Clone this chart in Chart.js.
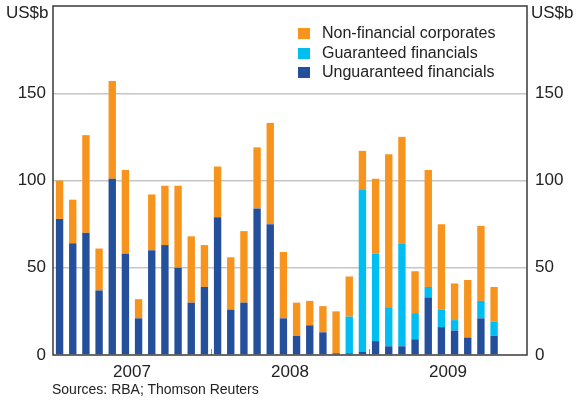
<!DOCTYPE html>
<html>
<head>
<meta charset="utf-8">
<script src="https://cdn.jsdelivr.net/npm/chart.js@4/dist/chart.umd.min.js"></script>
<style>
  body { margin: 0; background: #fff; font-family: "Liberation Sans", Arial, sans-serif; color: #222; }
  .wrap { position: relative; width: 577px; height: 400px; }
  .unit { position: absolute; top: 3px; font-size: 17px; }
  .legend { position: absolute; left: 298px; top: 23px; font-size: 16px; }
  .legend div { height: 19.5px; line-height: 19.5px; white-space: nowrap; }
  .legend span { display: inline-block; width: 12px; height: 11px; margin-right: 12px; vertical-align: -1px; }
  .source { position: absolute; left: 52px; top: 381px; font-size: 14px; }
</style>
</head>
<body>
<div class="wrap">
  <canvas id="bondChart" width="577" height="400"></canvas>
  <div class="unit" style="left:6px">US$b</div>
  <div class="unit" style="left:531px">US$b</div>
  <div class="legend">
    <div><span style="background:#f7941d"></span>Non-financial corporates</div>
    <div><span style="background:#00bdf2"></span>Guaranteed financials</div>
    <div><span style="background:#234f9b"></span>Unguaranteed financials</div>
  </div>
  <div class="source">Sources: RBA; Thomson Reuters</div>
</div>
<script>
// Tháng, từ 01/2007 đến 12/2009
var months = ['2007-01','2007-02','2007-03','2007-04','2007-05','2007-06','2007-07','2007-08','2007-09','2007-10','2007-11','2007-12',
              '2008-01','2008-02','2008-03','2008-04','2008-05','2008-06','2008-07','2008-08','2008-09','2008-10','2008-11','2008-12',
              '2009-01','2009-02','2009-03','2009-04','2009-05','2009-06','2009-07','2009-08','2009-09','2009-10','2009-11','2009-12'];
var unguaranteed = [78,64,70,37,101,58,21,60,63,50,30,39, 79,26,30,84,75,21,11,17,13,1,1,2, 8,5,5,9,33,16,14,10,21,11,null,null];
var guaranteed   = [0,0,0,0,0,0,0,0,0,0,0,0, 0,0,0,0,0,0,0,0,0,0,21,93, 50,22,59,15,6,10,6,0,10,8,null,null];
var nonFinancial = [22,25,56,24,56,48,11,32,34,47,38,24, 29,30,41,35,58,38,19,14,15,24,23,22, 43,88,61,24,67,49,21,33,43,20,null,null];
var yearLabels = {'2007-07': '2007', '2008-07': '2008', '2009-07': '2009'};
var yTicks = [0, 50, 100, 150];

document.addEventListener('DOMContentLoaded', function() {
    var ctx = document.getElementById('bondChart').getContext('2d');

    // Khung viền và vạch chia năm
    var framePlugin = {
        id: 'frame',
        afterDraw: function(chart) {
            var a = chart.chartArea;
            var c = chart.ctx;
            var x = chart.scales.x;
            c.save();
            c.strokeStyle = '#8a8a8a';
            c.lineWidth = 1;
            [12, 24].forEach(function(i) {
                var px = Math.round((x.getPixelForValue(i - 1) + x.getPixelForValue(i)) / 2) + 0.5;
                c.beginPath();
                c.moveTo(px, a.bottom);
                c.lineTo(px, a.bottom - 6);
                c.stroke();
            });
            c.strokeStyle = '#3a3a3a';
            c.lineWidth = 1.5;
            c.strokeRect(a.left, a.top, a.right - a.left, a.bottom - a.top);
            c.restore();
        }
    };

    var tickFont = { family: 'Liberation Sans', size: 17 };

    // Bỏ phần đệm tự động ở trên/dưới trục dọc
    function fixY(width) {
        return function(s) {
            s.width = width;
            s.paddingTop = 0;
            s.paddingBottom = 0;
        };
    }

    new Chart(ctx, {
        type: 'bar',
        data: {
            labels: months,
            datasets: [
                { label: 'Unguaranteed financials', data: unguaranteed, backgroundColor: '#234f9b' },
                { label: 'Guaranteed financials', data: guaranteed, backgroundColor: '#00bdf2' },
                { label: 'Non-financial corporates', data: nonFinancial, backgroundColor: '#f7941d' }
            ]
        },
        options: {
            responsive: false,
            animation: false,
            layout: { padding: { top: 6, left: 0, right: 0, bottom: 0 } },
            datasets: { bar: { barPercentage: 0.56, categoryPercentage: 1 } },
            plugins: { legend: { display: false }, tooltip: { enabled: false } },
            scales: {
                x: {
                    stacked: true,
                    grid: { display: false, drawTicks: false },
                    border: { display: false },
                    ticks: {
                        autoSkip: false,
                        maxRotation: 0,
                        padding: 7,
                        labelOffset: -6.6,
                        color: '#222',
                        font: tickFont,
                        callback: function(v, i) { return yearLabels[months[i]] || ''; }
                    },
                    afterFit: function(s) { s.height = 45; s.paddingLeft = 0; s.paddingRight = 0; }
                },
                y: {
                    stacked: true,
                    min: 0, max: 200,
                    position: 'left',
                    border: { display: false },
                    grid: {
                        drawTicks: false,
                        lineWidth: 1.5,
                        color: function(c) { return (c.tick && c.tick.value > 0 && c.tick.value < 200) ? '#c6c6c6' : 'rgba(0,0,0,0)'; }
                    },
                    afterBuildTicks: function(s) { s.ticks = yTicks.concat([200]).map(function(v) { return { value: v }; }); },
                    ticks: {
                        padding: 7,
                        color: '#222',
                        font: tickFont,
                        callback: function(v) { return yTicks.indexOf(v) >= 0 ? v : ''; }
                    },
                    afterFit: fixY(53)
                },
                y2: {
                    min: 0, max: 200,
                    position: 'right',
                    border: { display: false },
                    grid: { display: false, drawTicks: false },
                    afterBuildTicks: function(s) { s.ticks = yTicks.concat([200]).map(function(v) { return { value: v }; }); },
                    ticks: {
                        padding: 8,
                        color: '#222',
                        font: tickFont,
                        callback: function(v) { return yTicks.indexOf(v) >= 0 ? v : ''; }
                    },
                    afterFit: fixY(50)
                }
            }
        },
        plugins: [framePlugin]
    });
});
</script>
</body>
</html>
